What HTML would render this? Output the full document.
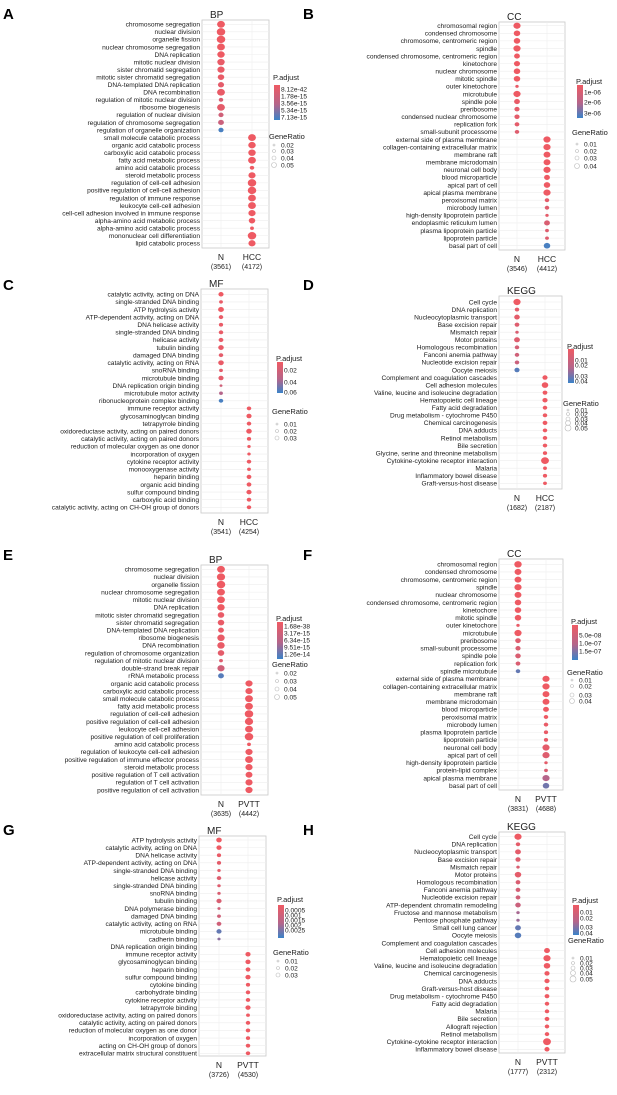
<!DOCTYPE html>
<html><head><meta charset="utf-8">
<style>
html,body{margin:0;padding:0;background:#fff;}
svg text{font-family:"Liberation Sans",sans-serif;}
</style></head>
<body>
<svg id="fig" width="617" height="1090" viewBox="0 0 617 1090" xmlns="http://www.w3.org/2000/svg">
<defs>
<linearGradient id="cb" x1="0" y1="0" x2="0" y2="1">
<stop offset="0" stop-color="#ee5a63"/><stop offset="0.55" stop-color="#b5658a"/><stop offset="1" stop-color="#3b83c8"/>
</linearGradient>
</defs>
</svg>
<script>
// ---------- data ----------
const termsA=["chromosome segregation","nuclear division","organelle fission","nuclear chromosome segregation","DNA replication","mitotic nuclear division","sister chromatid segregation","mitotic sister chromatid segregation","DNA-templated DNA replication","DNA recombination","regulation of mitotic nuclear division","ribosome biogenesis","regulation of nuclear division","regulation of chromosome segregation","regulation of organelle organization","small molecule catabolic process","organic acid catabolic process","carboxylic acid catabolic process","fatty acid metabolic process","amino acid catabolic process","steroid metabolic process","regulation of cell-cell adhesion","positive regulation of cell-cell adhesion","regulation of immune response","leukocyte cell-cell adhesion","cell-cell adhesion involved in immune response","alpha-amino acid metabolic process","alpha-amino acid catabolic process","mononuclear cell differentiation","lipid catabolic process"];
const groupA=[0,0,0,0,0,0,0,0,0,0,0,0,0,0,0,1,1,1,1,1,1,1,1,1,1,1,1,1,1,1];
const ratioA=[.045,.05,.05,.045,.042,.042,.04,.035,.032,.045,.02,.045,.025,.03,.025,.045,.042,.042,.045,.02,.04,.05,.05,.045,.045,.04,.035,.015,.05,.04];
const padjA=[0,0,0,0,0,.05,.05,.05,.1,.05,.2,.1,.3,.35,.95,0,0,0,0,0,0,0,0,0,0,0,0,0,0,0];

const termsB=["chromosomal region","condensed chromosome","chromosome, centromeric region","spindle","condensed chromosome, centromeric region","kinetochore","nuclear chromosome","mitotic spindle","outer kinetochore","microtubule","spindle pole","preribosome","condensed nuclear chromosome","replication fork","small-subunit processome","external side of plasma membrane","collagen-containing extracellular matrix","membrane raft","membrane microdomain","neuronal cell body","blood microparticle","apical part of cell","apical plasma membrane","peroxisomal matrix","microbody lumen","high-density lipoprotein particle","endoplasmic reticulum lumen","plasma lipoprotein particle","lipoprotein particle","basal part of cell"];
const groupB=[0,0,0,0,0,0,0,0,0,0,0,0,0,0,0,1,1,1,1,1,1,1,1,1,1,1,1,1,1,1];
const ratioB=[.04,.035,.035,.04,.03,.032,.035,.035,.012,.04,.03,.025,.025,.022,.02,.04,.04,.038,.038,.04,.03,.035,.04,.02,.02,.012,.03,.015,.015,.035];
const padjB=[0,0,0,0,0,0,0,0,.05,0,.05,.1,.1,.1,.15,0,0,0,0,0,0,0,0,.1,.15,.1,.2,.15,.15,.95];

const termsC=["catalytic activity, acting on DNA","single-stranded DNA binding","ATP hydrolysis activity","ATP-dependent activity, acting on DNA","DNA helicase activity","single-stranded DNA binding","helicase activity","tubulin binding","damaged DNA binding","catalytic activity, acting on RNA","snoRNA binding","microtubule binding","DNA replication origin binding","microtubule motor activity","ribonucleoprotein complex binding","immune receptor activity","glycosaminoglycan binding","tetrapyrrole binding","oxidoreductase activity, acting on paired donors","catalytic activity, acting on paired donors","reduction of molecular oxygen as one donor","incorporation of oxygen","cytokine receptor activity","monooxygenase activity","heparin binding","organic acid binding","sulfur compound binding","carboxylic acid binding","catalytic activity, acting on CH-OH group of donors"];
const groupC=[0,0,0,0,0,0,0,0,0,0,0,0,0,0,0,1,1,1,1,1,1,1,1,1,1,1,1,1,1];
const ratioC=[.025,.015,.03,.02,.018,.02,.022,.028,.02,.028,.015,.025,.008,.015,.02,.02,.025,.02,.028,.018,.012,.012,.02,.015,.022,.022,.025,.02,.02];
const padjC=[0,.05,0,.05,.05,.05,.05,.05,.1,.05,.1,.1,.3,.55,.95,0,0,0,0,0,0,0,0,0,0,0,0,0,0];

const termsD=["Cell cycle","DNA replication","Nucleocytoplasmic transport","Base excision repair","Mismatch repair","Motor proteins","Homologous recombination","Fanconi anemia pathway","Nucleotide excision repair","Oocyte meiosis","Complement and coagulation cascades","Cell adhesion molecules","Valine, leucine and isoleucine degradation","Hematopoietic cell lineage","Fatty acid degradation","Drug metabolism - cytochrome P450","Chemical carcinogenesis","DNA adducts","Retinol metabolism","Bile secretion","Glycine, serine and threonine metabolism","Cytokine-cytokine receptor interaction","Malaria","Inflammatory bowel disease","Graft-versus-host disease"];
const groupD=[0,0,0,0,0,0,0,0,0,0,1,1,1,1,1,1,1,1,1,1,1,1,1,1,1];
const ratioD=[.04,.02,.028,.022,.012,.03,.02,.02,.02,.025,.025,.035,.022,.025,.02,.02,.022,.02,.02,.02,.018,.045,.015,.018,.015];
const padjD=[0,.1,.1,.15,.2,.15,.25,.3,.35,.9,0,0,0,0,0,0,0,0,0,0,0,0,0,0,0];

const termsE=["chromosome segregation","nuclear division","organelle fission","nuclear chromosome segregation","mitotic nuclear division","DNA replication","mitotic sister chromatid segregation","sister chromatid segregation","DNA-templated DNA replication","ribosome biogenesis","DNA recombination","regulation of chromosome organization","regulation of mitotic nuclear division","double-strand break repair","rRNA metabolic process","organic acid catabolic process","carboxylic acid catabolic process","small molecule catabolic process","fatty acid metabolic process","regulation of cell-cell adhesion","positive regulation of cell-cell adhesion","leukocyte cell-cell adhesion","positive regulation of cell proliferation","amino acid catabolic process","regulation of leukocyte cell-cell adhesion","positive regulation of immune effector process","steroid metabolic process","positive regulation of T cell activation","regulation of T cell activation","positive regulation of cell activation"];
const groupE=[0,0,0,0,0,0,0,0,0,0,0,0,0,0,0,1,1,1,1,1,1,1,1,1,1,1,1,1,1,1];
const ratioE=[.045,.048,.05,.045,.045,.042,.035,.035,.03,.042,.042,.035,.015,.04,.03,.04,.04,.045,.045,.05,.048,.045,.05,.015,.04,.045,.04,.038,.04,.04];
const padjE=[0,0,0,0,0,0,.05,.05,.05,.05,.05,.1,.15,.3,.9,0,0,0,0,0,0,0,0,0,0,0,0,0,0,0];

const termsF=["chromosomal region","condensed chromosome","chromosome, centromeric region","spindle","nuclear chromosome","condensed chromosome, centromeric region","kinetochore","mitotic spindle","outer kinetochore","microtubule","preribosome","small-subunit processome","spindle pole","replication fork","spindle microtubule","external side of plasma membrane","collagen-containing extracellular matrix","membrane raft","membrane microdomain","blood microparticle","peroxisomal matrix","microbody lumen","plasma lipoprotein particle","lipoprotein particle","neuronal cell body","apical part of cell","high-density lipoprotein particle","protein-lipid complex","apical plasma membrane","basal part of cell"];
const groupF=[0,0,0,0,0,0,0,0,0,0,0,0,0,0,0,1,1,1,1,1,1,1,1,1,1,1,1,1,1,1];
const ratioF=[.042,.038,.038,.04,.038,.035,.035,.035,.012,.04,.028,.025,.028,.022,.02,.04,.04,.038,.038,.03,.02,.02,.018,.018,.04,.04,.012,.015,.04,.035];
const padjF=[0,0,0,0,0,0,0,0,.05,0,.15,.2,.2,.2,.85,0,0,0,0,0,0,.05,.05,.05,.1,.15,.1,.2,.55,.8];

const termsG=["ATP hydrolysis activity","catalytic activity, acting on DNA","DNA helicase activity","ATP-dependent activity, acting on DNA","single-stranded DNA binding","helicase activity","single-stranded DNA binding","snoRNA binding","tubulin binding","DNA polymerase binding","damaged DNA binding","catalytic activity, acting on RNA","microtubule binding","cadherin binding","DNA replication origin binding","immune receptor activity","glycosaminoglycan binding","heparin binding","sulfur compound binding","cytokine binding","carbohydrate binding","cytokine receptor activity","tetrapyrrole binding","oxidoreductase activity, acting on paired donors","catalytic activity, acting on paired donors","reduction of molecular oxygen as one donor","incorporation of oxygen","acting on CH-OH group of donors","extracellular matrix structural constituent"];
const groupG=[0,0,0,0,0,0,0,0,0,0,0,0,0,0,1,1,1,1,1,1,1,1,1,1,1,1,1,1];
const ratioG=[.028,.025,.018,.018,.012,.02,.012,.012,.025,.01,.015,.022,.025,.01,.025,.025,.022,.025,.018,.02,.02,.025,.015,.02,.02,.018,.02,.02];
const padjG=[0,0,.05,.1,.1,.15,.15,.2,.2,.3,.3,.3,.85,.7,0,0,0,0,0,0,0,0,0,0,0,0,0,0];
const rowsG=[0,1,2,3,4,5,6,7,8,9,10,11,12,13,15,16,17,18,19,20,21,22,23,24,25,26,27,28];

const termsH=["Cell cycle","DNA replication","Nucleocytoplasmic transport","Base excision repair","Mismatch repair","Motor proteins","Homologous recombination","Fanconi anemia pathway","Nucleotide excision repair","ATP-dependent chromatin remodeling","Fructose and mannose metabolism","Pentose phosphate pathway","Small cell lung cancer","Oocyte meiosis","Complement and coagulation cascades","Cell adhesion molecules","Hematopoietic cell lineage","Valine, leucine and isoleucine degradation","Chemical carcinogenesis","DNA adducts","Graft-versus-host disease","Drug metabolism - cytochrome P450","Fatty acid degradation","Malaria","Bile secretion","Allograft rejection","Retinol metabolism","Cytokine-cytokine receptor interaction","Inflammatory bowel disease"];
const groupH=[0,0,0,0,0,0,0,0,0,0,0,0,0,0,1,1,1,1,1,1,1,1,1,1,1,1,1,1];
const ratioH=[.04,.02,.03,.025,.012,.035,.022,.022,.022,.028,.012,.012,.03,.035,.03,.04,.035,.025,.025,.02,.022,.02,.02,.022,.02,.02,.045,.025];
const padjH=[0,.1,.1,.15,.2,.1,.2,.25,.3,.35,.6,.65,.85,.9,0,0,0,0,0,0,0,0,0,0,0,0,0,0];
const rowsH=[0,1,2,3,4,5,6,7,8,9,10,11,12,13,15,16,17,18,19,20,21,22,23,24,25,26,27,28];

const padjTicksA=["8.12e-42","1.78e-15","3.56e-15","5.34e-15","7.13e-15"];
const padjTicksB=["1e-06","2e-06","3e-06"];
const padjTicksC=["0.02","0.04","0.06"];
const padjTicksD=["0.01","0.02","0.03","0.04"];
const padjTicksE=["1.68e-38","3.17e-15","6.34e-15","9.51e-15","1.26e-14"];
const padjTicksF=["5.0e-08","1.0e-07","1.5e-07"];
const padjTicksG=["0.0005","0.001","0.0015","0.002","0.0025"];
const padjTicksH=["0.01","0.02","0.03","0.04"];
const grTicks4=["0.02","0.03","0.04","0.05"];
const grTicksB=["0.01","0.02","0.03","0.04"];
const grTicks3=["0.01","0.02","0.03"];
const grTicks5=["0.01","0.02","0.03","0.04","0.05"];

// ---------- layout ----------
const panels=[
 {id:"a",letter:"A",lp:[3,19],title:"BP",box:[202,20,269,248],rows:[24.3,243.3],n:30,cx:[221,252],xl:["N","HCC"],cnt:["(3561)","(4172)"],terms:termsA,grp:groupA,ratio:ratioA,padj:padjA,
  leg:{x:273,y:77,bar:[85,120],pt:padjTicksA,pty:[89,96,103,110,117],gy:136,gt:grTicks4,gyy:[145,151,158,165]}},
 {id:"b",letter:"B",lp:[303,19],title:"CC",box:[499,22,565,250],rows:[25.7,245.7],n:30,cx:[517,547],xl:["N","HCC"],cnt:["(3546)","(4412)"],terms:termsB,grp:groupB,ratio:ratioB,padj:padjB,
  leg:{x:576,y:81,bar:[85,118],pt:padjTicksB,pty:[92,102,113],gy:132,gt:grTicksB,gyy:[144,151,158,166]}},
 {id:"c",letter:"C",lp:[3,290],title:"MF",box:[201,289,268,513],rows:[294.3,507.3],n:29,cx:[221,249],xl:["N","HCC"],cnt:["(3541)","(4254)"],terms:termsC,grp:groupC,ratio:ratioC,padj:padjC,
  leg:{x:276,y:358,bar:[362,393],pt:padjTicksC,pty:[370,382,392],gy:411,gt:grTicks3,gyy:[424,431,438]}},
 {id:"d",letter:"D",lp:[303,290],title:"KEGG",box:[499,296,562,489],rows:[302,483.3],n:25,cx:[517,545],xl:["N","HCC"],cnt:["(1682)","(2187)"],terms:termsD,grp:groupD,ratio:ratioD,padj:padjD,
  leg:{x:567,y:346,bar:[349,383],pt:padjTicksD,pty:[360,365,376,381],gy:403,gt:grTicks5,gyy:[410,414,419,423,428]}},
 {id:"e",letter:"E",lp:[3,560],title:"BP",box:[201,565,268,795],rows:[569.3,790],n:30,cx:[221,249],xl:["N","PVTT"],cnt:["(3635)","(4442)"],terms:termsE,grp:groupE,ratio:ratioE,padj:padjE,
  leg:{x:276,y:618,bar:[622,659],pt:padjTicksE,pty:[626,633,640,647,654],gy:664,gt:grTicks4,gyy:[673,681,689,697]}},
 {id:"f",letter:"F",lp:[303,560],title:"CC",box:[499,559,563,790],rows:[564.3,785.7],n:30,cx:[518,546],xl:["N","PVTT"],cnt:["(3831)","(4688)"],terms:termsF,grp:groupF,ratio:ratioF,padj:padjF,
  leg:{x:571,y:621,bar:[625,660],pt:padjTicksF,pty:[635,643,651],gy:672,gt:grTicksB,gyy:[680,686,695,701]}},
 {id:"g",letter:"G",lp:[3,835],title:"MF",box:[199,836,266,1056],rows:[840,1053.3],n:29,cx:[219,248],xl:["N","PVTT"],cnt:["(3726)","(4530)"],terms:termsG,grp:groupG,ratio:ratioG,padj:padjG,rowIdx:rowsG,
  leg:{x:277,y:899,bar:[905,938],pt:padjTicksG,pty:[910,915,920,925,930],gy:952,gt:grTicks3,gyy:[961,968,975]}},
 {id:"h",letter:"H",lp:[303,835],title:"KEGG",box:[499,832,565,1053],rows:[836.7,1049.3],n:29,cx:[518,547],xl:["N","PVTT"],cnt:["(1777)","(2312)"],terms:termsH,grp:groupH,ratio:ratioH,padj:padjH,rowIdx:rowsH,
  leg:{x:572,y:900,bar:[905,935],pt:padjTicksH,pty:[912,918,927,933],gy:940,gt:grTicks5,gyy:[958,963,968,973,979]}}
];

const NS="http://www.w3.org/2000/svg";
const svg=document.getElementById('fig');
function mk(tag,attrs,parent){const e=document.createElementNS(NS,tag);for(const k in attrs)e.setAttribute(k,attrs[k]);(parent||svg).appendChild(e);return e;}
function txt(s,attrs,parent){const e=mk('text',attrs,parent);e.textContent=s;return e;}
function colorOf(t){
  const a=[238,90,99],m=[181,101,138],b=[59,131,200];
  let c;if(t<.55){const u=t/.55;c=a.map((v,i)=>v+(m[i]-v)*u);}else{const u=(t-.55)/.45;c=m.map((v,i)=>v+(b[i]-v)*u);}
  return 'rgb('+c.map(Math.round).join(',')+')';
}
function rOf(ratio){return 0.8+ratio*58;}

panels.forEach(p=>{
  const g=mk('g',{});
  
  
  const L=txt(p.letter,{x:p.lp[0],y:p.lp[1],'font-size':15,'font-weight':'bold',fill:'#000'},g);
  
  
  const [x0,y0,x1,y1]=p.box;
  const T=txt(p.title,{x:x0+8,y:y0-2,'font-size':10,fill:'#222'},g);
  
  
  const B=mk('rect',{x:x0,y:y0,width:x1-x0,height:y1-y0,fill:'#fff',stroke:'#c8c8c8','stroke-width':0.8},g);
  
  
  const yOf=i=>p.rows[0]+(p.rows[1]-p.rows[0])*i/(p.n-1);
  const xOf=k=>p.cx[k];
  for(let i=0;i<p.n;i++){const gl=mk('line',{x1:x0,x2:x1,y1:yOf(i),y2:yOf(i),stroke:'#eeeeee','stroke-width':0.6},g);
    }
  [0,1].forEach(k=>{const gl=mk('line',{x1:xOf(k),x2:xOf(k),y1:y0,y2:y1,stroke:'#eeeeee','stroke-width':0.6},g);
    
    const xl=txt(p.xl[k],{x:xOf(k),y:y1+12,'font-size':8.5,'text-anchor':'middle',fill:'#222'},g);
    
    const cl=txt(p.cnt[k],{x:xOf(k),y:y1+21,'font-size':7,'text-anchor':'middle',fill:'#222'},g);
    });
  p.terms.forEach((s,j)=>{
    const t=txt(s,{x:x0-2,y:yOf(j)+2.3,'font-size':6.6,'text-anchor':'end',fill:'#1a1a1a'},g);
    
  });
  p.ratio.forEach((r,j)=>{
    const i=p.rowIdx?p.rowIdx[j]:j;
    const rad=rOf(r);
    const d=mk('ellipse',{cx:xOf(p.grp[j]),cy:yOf(i),rx:rad*1.15,ry:rad,fill:colorOf(p.padj[j])},g);
    
  });
  const lg=p.leg;
  const lgG=mk('g',{},g);
  
  txt('P.adjust',{x:lg.x,y:lg.y+3,'font-size':7.5,fill:'#222'},lgG);
  mk('rect',{x:lg.x+1,y:lg.bar[0],width:6,height:lg.bar[1]-lg.bar[0],fill:'url(#cb)'},lgG);
  lg.pt.forEach((s,k)=>{txt(s,{x:lg.x+8,y:lg.pty[k]+2.5,'font-size':6.6,fill:'#222'},lgG);});
  txt('GeneRatio',{x:lg.x-4,y:lg.gy+3,'font-size':7.5,fill:'#222'},lgG);
  lg.gt.forEach((s,k)=>{
    mk('circle',{cx:lg.x+1,cy:lg.gyy[k],r:1+k*0.5,fill:'none',stroke:'#bbb','stroke-width':0.6},lgG);
    txt(s,{x:lg.x+8,y:lg.gyy[k]+2.5,'font-size':6.6,fill:'#222'},lgG);
  });
});
</script>
</body></html>
